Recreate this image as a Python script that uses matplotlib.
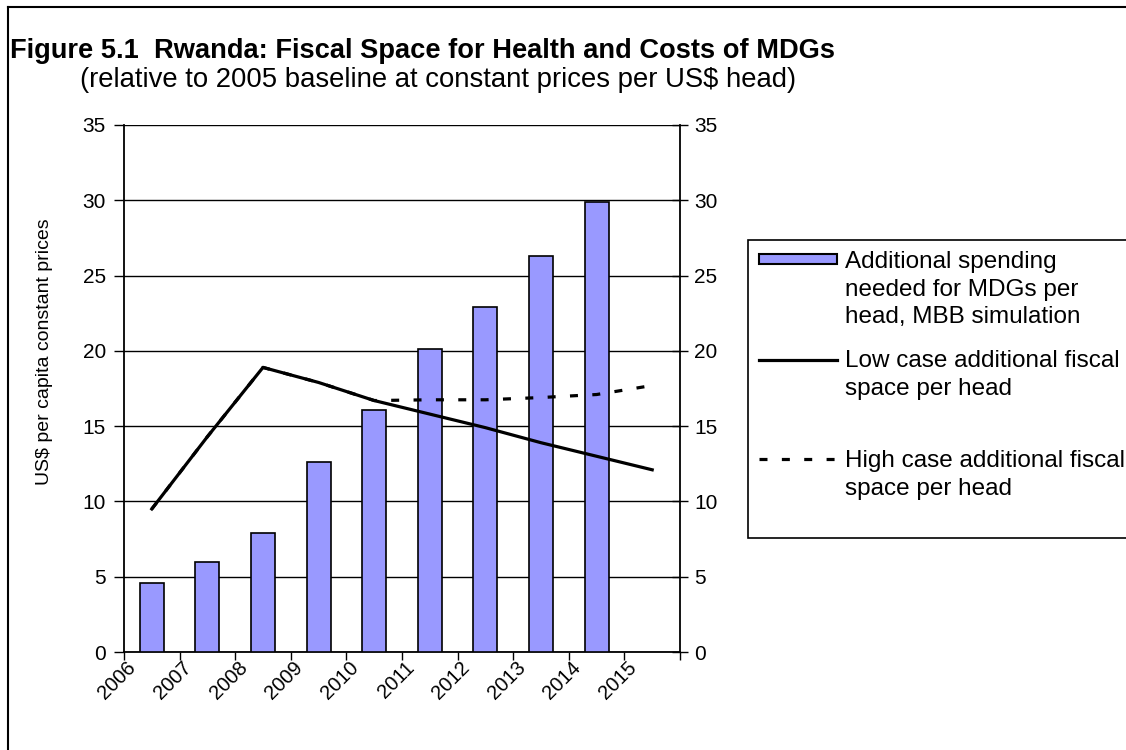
import matplotlib
matplotlib.use("Agg")
import matplotlib.pyplot as plt
import matplotlib.transforms as mtransforms
from matplotlib.patches import Rectangle
from matplotlib.lines import Line2D
from matplotlib.legend_handler import HandlerPatch, HandlerLine2D
import numpy as np

plt.rcParams['font.family'] = ['Liberation Sans', 'DejaVu Sans']

# data
years = ['2006', '2007', '2008', '2009', '2010', '2011', '2012', '2013', '2014', '2015']
mdg_spending = [4.6, 6.0, 7.9, 12.6, 16.1, 20.1, 22.9, 26.3, 29.9, np.nan]
low_case = [9.5, 14.3, 18.9, 17.9, 16.7, 15.8, 14.9, 13.9, 13.0, 12.1]
high_case = [9.5, 14.3, 18.9, 17.9, 16.7, 16.75, 16.75, 16.9, 17.1, 17.7]

bar_color = '#9999FF'
dash = (2.5, 4.5)

fig = plt.figure(figsize=(11.26, 7.5), dpi=100)
ax = fig.add_axes([124 / 1126, 1 - 652 / 750, 556 / 1126, 527 / 750])

x = np.arange(len(years))
ax.bar(x, mdg_spending, width=0.43, color=bar_color, edgecolor='black', linewidth=1.2, zorder=3)
ax.plot(x, low_case, color='black', lw=2.3, zorder=4)
ax.plot(x, high_case, color='black', lw=2.3, dashes=dash, zorder=4)

ax.set_xlim(-0.5, len(years) - 0.5)
ax.set_ylim(0, 35)
ax.set_yticks(range(0, 36, 5))
ax.yaxis.grid(True, color='black', lw=1)
ax.set_axisbelow(True)
for s in ['top', 'right']:
    ax.spines[s].set_visible(False)
ax.spines['left'].set_linewidth(1.3)
ax.spines['bottom'].set_linewidth(1.3)
ax.tick_params(axis='y', direction='out', length=7, width=1, labelsize=15, pad=6)

# ticks at category boundaries, labels at centres shifted left like the original
ax.set_xticks(np.arange(-0.5, len(years), 1))
ax.set_xticklabels([])
ax.tick_params(axis='x', which='major', direction='out', length=6, width=1)
ax.set_xticks(x, minor=True)
ax.set_xticklabels(years, minor=True, rotation=45, ha='right', va='top', fontsize=14.5)
ax.tick_params(axis='x', which='minor', length=0, pad=4)
offset = mtransforms.ScaledTranslation(-0.12, 0, fig.dpi_scale_trans)
for lab in ax.xaxis.get_minorticklabels():
    lab.set_transform(lab.get_transform() + offset)

ax2 = ax.twinx()
ax2.set_ylim(0, 35)
ax2.set_yticks(range(0, 36, 5))
for s in ['top', 'left', 'bottom']:
    ax2.spines[s].set_visible(False)
ax2.spines['right'].set_linewidth(1.3)
ax2.tick_params(axis='y', direction='inout', length=12, width=1, labelsize=15, pad=4)

fig.text(45 / 1126, 1 - 352 / 750, 'US$ per capita constant prices', rotation=90,
         ha='center', va='center', fontsize=14)

fig.text(10 / 1126, 1 - 51 / 750, 'Figure 5.1  Rwanda: Fiscal Space for Health and Costs of MDGs',
         fontsize=19.6, fontweight='bold', ha='left', va='center')
fig.text(80 / 1126, 1 - 80 / 750, '(relative to 2005 baseline at constant prices per US$ head)',
         fontsize=19.8, ha='left', va='center')

# outer frame (only top and left visible in the original crop)
fig.add_artist(Line2D([8 / 1126, 8 / 1126], [0, 1 - 7 / 750], color='black', lw=1.5,
                      transform=fig.transFigure))
fig.add_artist(Line2D([8 / 1126, 1], [1 - 7 / 750, 1 - 7 / 750], color='black', lw=1.5,
                      transform=fig.transFigure))

# legend: handles sit level with the first line of each label
LINE_SHIFT = 21.8  # points, about one text line


def first_line_rect(legend, orig_handle, xdescent, ydescent, width, height, fontsize):
    return Rectangle((-xdescent, -ydescent + LINE_SHIFT + 0.15 * height), width, 0.7 * height)


class FirstLineHandler(HandlerLine2D):
    def create_artists(self, legend, orig_handle, xdescent, ydescent, width, height, fontsize, trans):
        arts = super().create_artists(legend, orig_handle, xdescent, ydescent, width, height,
                                      fontsize, trans)
        for a in arts:
            if isinstance(a, Line2D):
                a.set_ydata(np.asarray(a.get_ydata()) + LINE_SHIFT)
        return arts


bar_h = Rectangle((0, 0), 1, 1, facecolor=bar_color, edgecolor='black', lw=1.5)
low_h = Line2D([], [], color='black', lw=2.3)
high_h = Line2D([], [], color='black', lw=2.3, dashes=dash)
labels = ['Additional spending\nneeded for MDGs per\nhead, MBB simulation',
          'Low case additional fiscal\nspace per head\n ',
          'High case additional fiscal\nspace per head\n ']

leg = fig.legend([bar_h, low_h, high_h], labels, loc='upper left',
                 bbox_to_anchor=(748 / 1126, 1 - 240 / 750),
                 bbox_transform=fig.transFigure, fontsize=17.5, frameon=True, fancybox=False,
                 edgecolor='black', framealpha=1, borderpad=0.45, labelspacing=0.9,
                 handlelength=3.2, handletextpad=0.33, borderaxespad=0, handleheight=0.5,
                 handler_map={Rectangle: HandlerPatch(patch_func=first_line_rect),
                              Line2D: FirstLineHandler()})
leg.get_frame().set_linewidth(1.2)
for t in leg.get_texts():
    t.set_linespacing(1.34)

fig.savefig('out.png', dpi=100)
